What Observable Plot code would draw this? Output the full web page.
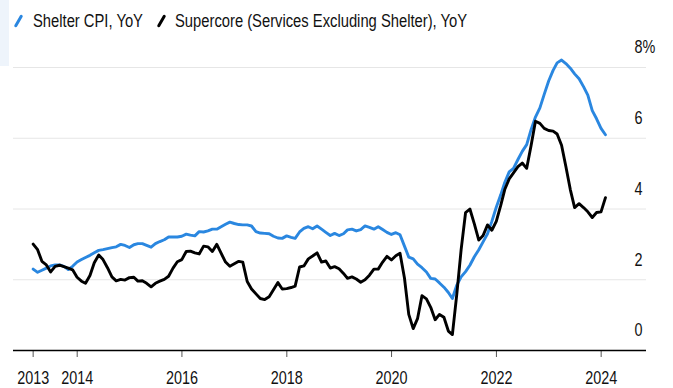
<!DOCTYPE html>
<html>
<head>
<meta charset="utf-8">
<script src="https://cdn.jsdelivr.net/npm/d3@7"></script>
<script src="https://cdn.jsdelivr.net/npm/@observablehq/plot@0.6"></script>
<style>
  html, body { margin: 0; padding: 0; background: #fff; }
  body { width: 673px; height: 388px; overflow: hidden; position: relative;
         font-family: "Liberation Sans", Arial, sans-serif; }
  #strip { position: absolute; left: 0; top: 0; width: 9px; height: 66px; background: #eef4fb; }
  #legend { position: relative; height: 36px; font-size: 18px; color: #111; }
  .item { position: absolute; top: 11px; white-space: nowrap; line-height: 20px;
          transform: scaleX(0.82); transform-origin: 0 50%; }
  .sw { position: absolute; width: 3px; height: 14px; border-radius: 1.5px; transform: rotate(30deg); }
  #chart { position: relative; }
</style>
</head>
<body>
<div id="strip"></div>
<div id="legend"></div>
<div id="chart"></div>
<script>
// ---- data ----
const seriesNames = ["Shelter CPI, YoY", "Supercore (Services Excluding Shelter), YoY"];
const seriesColors = ["#2a87e0", "#000000"];
const firstMonth = [2013, 2]; // Feb 2013, monthly observations (plotted at month end)
const shelter = [
  2.30, 2.21, 2.27, 2.33, 2.39, 2.42, 2.42, 2.38, 2.29, 2.38, 2.50, 2.57,
  2.63, 2.69, 2.76, 2.83, 2.85, 2.88, 2.91, 2.93, 3.00, 2.97, 2.91, 2.99,
  3.02, 3.02, 2.97, 2.92, 3.02, 3.08, 3.13, 3.21, 3.21, 3.21, 3.23, 3.29,
  3.26, 3.24, 3.36, 3.35, 3.38, 3.43, 3.43, 3.50, 3.57, 3.63, 3.59, 3.56,
  3.55, 3.55, 3.52, 3.36, 3.32, 3.31, 3.30, 3.23, 3.18, 3.17, 3.24, 3.20,
  3.17, 3.35, 3.45, 3.50, 3.44, 3.52, 3.43, 3.34, 3.25, 3.31, 3.25, 3.30,
  3.41, 3.43, 3.38, 3.42, 3.52, 3.48, 3.43, 3.50, 3.42, 3.34, 3.28, 3.33,
  3.27, 2.95, 2.64, 2.59, 2.44, 2.34, 2.22, 2.04, 2.02, 1.91, 1.79, 1.64,
  1.47, 1.85, 2.08, 2.23, 2.41, 2.65, 2.85, 3.07, 3.30, 3.65, 4.05, 4.40,
  4.75, 5.05, 5.15, 5.40, 5.63, 5.82, 6.25, 6.60, 6.86, 7.24, 7.62, 7.92,
  8.13, 8.21, 8.11, 7.98, 7.82, 7.68, 7.46, 7.22, 6.78, 6.55, 6.28, 6.10
];
const supercore = [
  3.01, 2.85, 2.52, 2.42, 2.22, 2.38, 2.41, 2.37, 2.33, 2.28, 2.07, 1.96,
  1.90, 2.12, 2.48, 2.70, 2.57, 2.34, 2.08, 1.97, 2.01, 1.99, 2.06, 2.07,
  1.96, 1.97, 1.90, 1.80, 1.90, 1.96, 2.01, 2.10, 2.33, 2.51, 2.57, 2.80,
  2.81, 2.76, 2.73, 2.95, 2.93, 2.80, 3.00, 2.75, 2.50, 2.38, 2.45, 2.52,
  2.50, 1.95, 1.74, 1.60, 1.47, 1.44, 1.52, 1.72, 1.92, 1.74, 1.75, 1.78,
  1.82, 2.36, 2.39, 2.59, 2.67, 2.76, 2.50, 2.53, 2.33, 2.37, 2.31, 2.18,
  2.04, 2.08, 2.02, 1.93, 2.00, 2.13, 2.30, 2.30, 2.50, 2.66, 2.56, 2.68,
  2.75, 2.05, 1.02, 0.62, 0.90, 1.55, 1.46, 1.22, 0.87, 1.02, 0.94, 0.55,
  0.45, 1.60, 2.85, 3.90, 4.00, 3.58, 3.12, 3.25, 3.55, 3.40, 3.65, 4.10,
  4.55, 4.85, 5.02, 5.20, 5.30, 5.15, 5.80, 6.48, 6.42, 6.28, 6.22, 6.20,
  6.12, 5.80, 5.20, 4.55, 4.04, 4.15, 4.04, 3.92, 3.76, 3.90, 3.92, 4.32
];
const xTickYears = [2014, 2016, 2018, 2020, 2022, 2024];
const xTickLabels = ["2013", "2014", "2016", "2018", "2020", "2022", "2024"];
const yTicks = [0, 2, 4, 6, 8];

// ---- build table ----
const monthEnd = (i) => new Date(Date.UTC(firstMonth[0], firstMonth[1] - 1 + i + 1, 0));
const rows = [];
shelter.forEach((v, i) => rows.push({date: monthEnd(i), value: v, series: seriesNames[0]}));
supercore.forEach((v, i) => rows.push({date: monthEnd(i), value: v, series: seriesNames[1]}));
const xTicks = [monthEnd(0), ...xTickYears.map(y => new Date(Date.UTC(y, 0, 1)))];

// ---- legend ----
const legend = document.getElementById("legend");
const legendPos = [{sw: 17, tx: 33}, {sw: 160, tx: 175}];
seriesNames.forEach((name, i) => {
  const s = document.createElement("span");
  s.className = "sw";
  s.style.background = seriesColors[i];
  s.style.left = legendPos[i].sw + "px";
  s.style.top = "14px";
  legend.appendChild(s);
  const t = document.createElement("span");
  t.className = "item";
  t.style.left = legendPos[i].tx + "px";
  t.textContent = name;
  legend.appendChild(t);
});

// ---- chart ----
const chart = Plot.plot({
  width: 673,
  height: 352,
  marginTop: 31,
  marginBottom: 38,
  marginLeft: 13,
  marginRight: 27,
  style: {fontFamily: '"Liberation Sans", Arial, sans-serif', fontSize: "18px", color: "#111", background: "transparent"},
  x: {type: "utc", domain: [new Date(Date.UTC(2012, 9, 14)), new Date(Date.UTC(2024, 10, 12))], label: null},
  y: {domain: [0, 8], label: null},
  marks: [
    Plot.ruleY(yTicks.filter(d => d > 0), {stroke: "#e6e6e6", strokeWidth: 1}),
    Plot.lineY(rows.filter(d => d.series === seriesNames[0]), {x: "date", y: "value", stroke: seriesColors[0], strokeWidth: 2.9, strokeLinejoin: "round", strokeLinecap: "round"}),
    Plot.lineY(rows.filter(d => d.series === seriesNames[1]), {x: "date", y: "value", stroke: seriesColors[1], strokeWidth: 2.9, strokeLinejoin: "round", strokeLinecap: "round"}),
    Plot.axisX({ticks: xTicks, tickFormat: (d, i) => xTickLabels[i], tickSize: 7, tickPadding: 14, stroke: "#555", strokeWidth: 1, fontSize: 18, label: null}),
    Plot.ruleY([0], {stroke: "#000", strokeWidth: 1.6}),
    Plot.axisY({anchor: "right", ticks: yTicks, tickSize: 0, tickPadding: 0, dx: -12, dy: -20, textAnchor: "start",
                tickFormat: d => d === 8 ? d + "%" : String(d), fontSize: 18, label: null})
  ]
});
document.getElementById("chart").appendChild(chart);
// condense the label glyphs horizontally around their anchor (the reference uses a narrow face)
chart.querySelectorAll("text").forEach(t => {
  const b = t.getBBox();
  const anchor = getComputedStyle(t).textAnchor;
  const cx = anchor === "middle" ? b.x + b.width / 2 : anchor === "end" ? b.x + b.width : b.x;
  const tr = t.getAttribute("transform") || "";
  t.setAttribute("transform", `${tr} translate(${cx},0) scale(0.8,1) translate(${-cx},0)`);
});
</script>
</body>
</html>
